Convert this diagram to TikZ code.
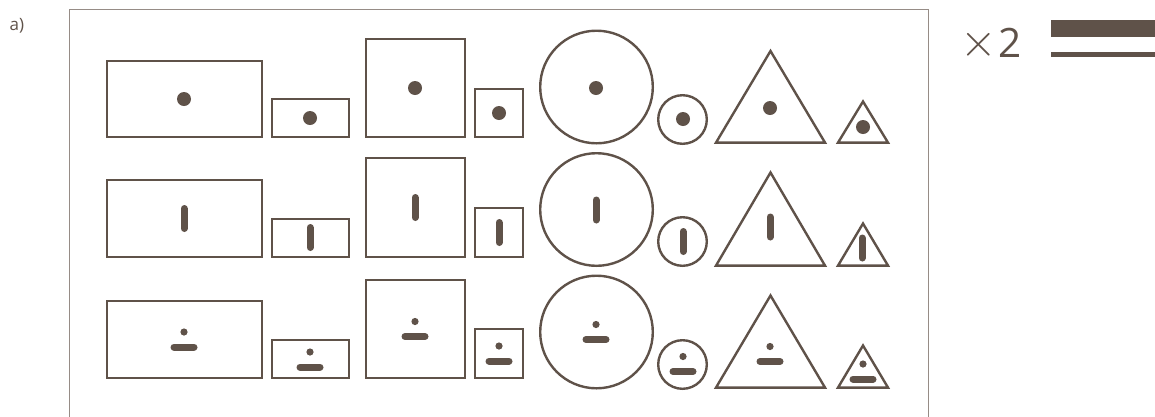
\documentclass[tikz,border=0pt]{standalone}
\usepackage{fontspec}
\usepackage{graphicx}
\setmainfont{Open Sans}
\definecolor{ink}{HTML}{5F5249}
\definecolor{framec}{HTML}{968C86}
\tikzset{
  outline/.style={draw=ink, line width=2.4pt, line join=miter},
  framel/.style={draw=framec, line width=1.3pt},
  gstroke/.style={draw=ink, line width=7pt, line cap=round},
}
\newcommand{\gBigDot}[2]{\fill[ink] (#1,#2) circle (7pt);}
\newcommand{\gBar}[2]{\draw[gstroke] (#1,#2) ++(0,-10) -- ++(0,20);}
\newcommand{\gDotDash}[2]{\fill[ink] (#1,#2) ++(0,-7.5) circle (3.6pt); \draw[gstroke] (#1,#2) ++(-10,7.5) -- ++(20,0);}
\begin{document}
\begin{tikzpicture}[x=1pt,y=-1pt]
\useasboundingbox (0,0) rectangle (1155,416);
% frame
\draw[framel] (69.5,417) -- (69.5,9.5) -- (928.5,9.5) -- (928.5,417);
% label
\node[text=ink, font=\fontsize{17}{17}\selectfont, anchor=base west, inner sep=0pt] (lab) at (9.5,30) {a)};
% x2
\node[text=ink, anchor=center, inner sep=0pt] (times) at (978.5,44.5) {\scalebox{4.7}{$\times$}};
\node[text=ink, anchor=base west, inner sep=0pt] (two) at (998,57) {\fontsize{40.5}{40.5}\selectfont 2};
% bars
\fill[ink] (1051,20) rectangle (1155,37);
\fill[ink] (1051,52) rectangle (1155,57);

% ===== Row 1 =====
\draw[outline] (107.2,61.2) rectangle (261.8,136.8);
\draw[outline] (272.2,99.2) rectangle (348.8,136.8);
\draw[outline] (366.2,39.2) rectangle (464.8,136.8);
\draw[outline] (475.2,89.2) rectangle (522.8,136.8);
\draw[outline] (596.5,87) circle (56.3pt);
\draw[outline] (682.5,119.5) circle (24.3pt);
\draw[outline] (716,142.6) -- (825,142.6) -- (770.5,51) -- cycle;
\draw[outline] (838,142.6) -- (888,142.6) -- (863,101.5) -- cycle;
\gBigDot{184}{99}
\gBigDot{310}{118}
\gBigDot{415}{88}
\gBigDot{499}{113}
\gBigDot{596}{88}
\gBigDot{683}{119}
\gBigDot{770}{108}
\gBigDot{863}{127}

% ===== Row 2 =====
\draw[outline] (107.2,180.2) rectangle (261.8,256.8);
\draw[outline] (272.2,219.2) rectangle (348.8,256.8);
\draw[outline] (366.2,158.2) rectangle (464.8,256.8);
\draw[outline] (475.2,208.2) rectangle (522.8,256.8);
\draw[outline] (596.5,209.5) circle (56.3pt);
\draw[outline] (682.5,241.5) circle (24.3pt);
\draw[outline] (716,265.6) -- (825,265.6) -- (770.5,172.5) -- cycle;
\draw[outline] (838,265.6) -- (888,265.6) -- (863,223.5) -- cycle;
\gBar{184}{218.5}
\gBar{310}{237.5}
\gBar{415}{207.5}
\gBar{499}{232.5}
\gBar{596}{210}
\gBar{683}{241.5}
\gBar{770}{227}
\gBar{862}{248}

% ===== Row 3 =====
\draw[outline] (107.2,301.2) rectangle (261.8,377.8);
\draw[outline] (272.2,340.2) rectangle (348.8,378);
\draw[outline] (366.2,280.2) rectangle (464.8,377.8);
\draw[outline] (475.2,329.2) rectangle (522.8,377.8);
\draw[outline] (596.5,332) circle (56.3pt);
\draw[outline] (682.5,364.5) circle (24.3pt);
\draw[outline] (716,387.6) -- (825,387.6) -- (770.5,295.5) -- cycle;
\draw[outline] (838,387.6) -- (888,387.6) -- (863,345.5) -- cycle;
\gDotDash{184}{339.5}
\gDotDash{310}{359.5}
\gDotDash{415}{329}
\gDotDash{499}{353.5}
\gDotDash{596}{332}
\gDotDash{683}{364}
\gDotDash{770}{354}
\gDotDash{863}{371.5}
\end{tikzpicture}
\end{document}
